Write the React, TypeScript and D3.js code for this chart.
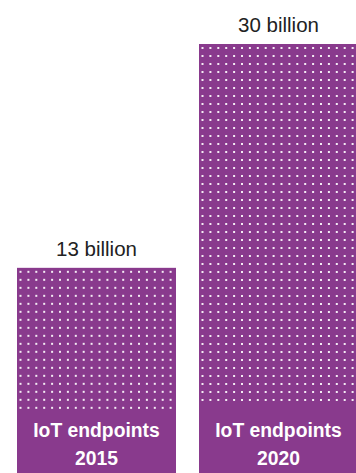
import React from "react";
import * as d3 from "d3";

const categories = ["2015", "2020"];
const values = [13, 30];
const valueLabels = ["13 billion", "30 billion"];
const barTitle = "IoT endpoints";

const W = 356;
const H = 473;
const PURPLE = "#893a8d";

export default function App() {
  const x = d3
    .scaleBand<string>()
    .domain(categories)
    .range([17, 358])
    .paddingInner(23 / 182)
    .paddingOuter(0);
  const y = d3.scaleLinear().domain([0, 30]).range([439, 44]);
  const bw = x.bandwidth();
  const dotLimit = 408;

  return (
    <svg
      width={W}
      height={H}
      style={{ position: "absolute", left: 0, top: 0 }}
    >
      {categories.map((c, i) => {
        const x0 = x(c)!;
        const top = y(values[i]);
        const cx = x0 + bw / 2;
        const cols = d3.range(x0 + 3.5, x0 + bw - 1, 7.9);
        const rows = d3.range(top + 4, dotLimit, 8);
        return (
          <g key={c}>
            <rect x={x0} y={top} width={bw} height={H - top} fill={PURPLE} />
            {rows.map((ry) =>
              cols.map((rx) => (
                <rect
                  key={`${rx}-${ry}`}
                  x={rx - 1}
                  y={ry - 1}
                  width={2}
                  height={2}
                  fill="#f4ecf4"
                />
              ))
            )}
            <text
              x={cx}
              y={top - 12}
              textAnchor="middle"
              fontFamily="'Liberation Sans', Arial, sans-serif"
              fontSize={20.5}
              fill="#222"
            >
              {valueLabels[i]}
            </text>
            <g transform={`translate(${cx},0) scale(0.92,1)`}>
              <text
                x={0}
                y={437.5}
                textAnchor="middle"
                fontFamily="'Liberation Sans', Arial, sans-serif"
                fontWeight="bold"
                fontSize={21}
                fill="#fff"
              >
                {barTitle}
              </text>
              <text
                x={0}
                y={465}
                textAnchor="middle"
                fontFamily="'Liberation Sans', Arial, sans-serif"
                fontWeight="bold"
                fontSize={21}
                fill="#fff"
              >
                {c}
              </text>
            </g>
          </g>
        );
      })}
    </svg>
  );
}
